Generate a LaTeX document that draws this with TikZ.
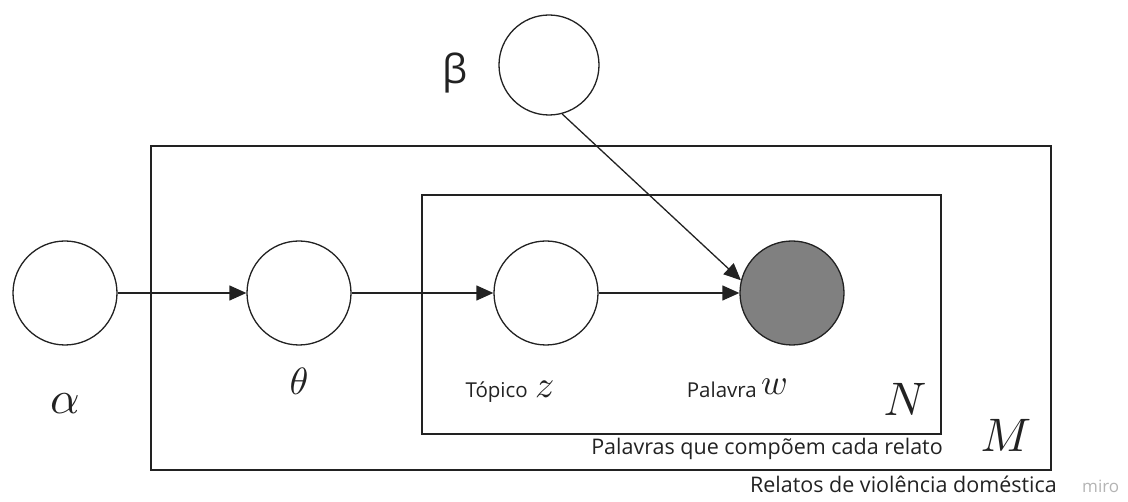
\documentclass[tikz,border=0pt]{standalone}
\usepackage{graphicx}
\usepackage{fontspec}
\setmainfont{Open Sans}
\usetikzlibrary{arrows.meta}
\definecolor{ink}{HTML}{222222}
\definecolor{mirogray}{HTML}{B4B4B4}
\newcommand{\mathlbl}[2]{\scalebox{#1}{\fontsize{10}{10}\selectfont$#2$}}
\tikzset{
  var/.style={circle,draw=ink,line width=1.3pt,minimum size=104pt,inner sep=0pt,fill=white},
  obs/.style={var,fill=black!50},
  plate/.style={draw=ink,line width=1.3pt},
  edge/.style={draw=ink,line width=1.3pt,-{Triangle[length=17pt,width=15pt]}},
  lbl/.style={inner sep=0pt,text=ink},
}
\begin{document}
\begin{tikzpicture}[x=1pt,y=-1pt]
\useasboundingbox (0,0) rectangle (1128,502);
% plates
\draw[plate] (151,146) rectangle (1051,470);
\draw[plate] (422,195) rectangle (941,434);
% nodes
\node[var] (alpha) at (65,293) {};
\node[var] (theta) at (299,293) {};
\node[var] (z) at (546,293) {};
\node[obs] (w) at (792,293) {};
\node[var,minimum size=100pt] (beta) at (549,65) {};
% edges
\draw[edge] (alpha) -- (theta);
\draw[edge] (theta) -- (z);
\draw[edge] (z) -- (w);
\draw[edge] (beta.-75) -- (w.166);
% labels
\node[lbl,anchor=base] (la) at (65,414) {\mathlbl{4.6}{\alpha}};
\node[lbl,anchor=base] (lt) at (299,395) {\mathlbl{3.8}{\theta}};
\node[lbl,font=\fontsize{40}{40}\selectfont,anchor=base] (lb) at (455,84) {β};
\node[lbl,font=\fontsize{20.5}{20.5}\selectfont,anchor=base east] (lz1) at (528,398) {Tópico};
\node[lbl,anchor=base west] (lz) at (535,398) {\mathlbl{3.8}{z}};
\node[lbl,font=\fontsize{20.5}{20.5}\selectfont,anchor=base east] (lw1) at (757,398) {Palavra};
\node[lbl,anchor=base west] (lw) at (761,395) {\mathlbl{3.6}{w}};
\node[lbl,anchor=base] (lN) at (905,416) {\mathlbl{4.7}{N}};
\node[lbl,anchor=base] (lM) at (1006,452) {\mathlbl{4.7}{M}};
\node[lbl,font=\fontsize{21.5}{21.5}\selectfont,anchor=base east] (lp) at (943,455) {Palavras que compõem cada relato};
\node[lbl,font=\fontsize{21.5}{21.5}\selectfont,anchor=base east] (lr) at (1057,493) {Relatos de violência doméstica};
\node[lbl,font=\fontsize{17}{17}\selectfont,text=mirogray,anchor=base west] (miro) at (1082,493) {miro};
\end{tikzpicture}
\end{document}
